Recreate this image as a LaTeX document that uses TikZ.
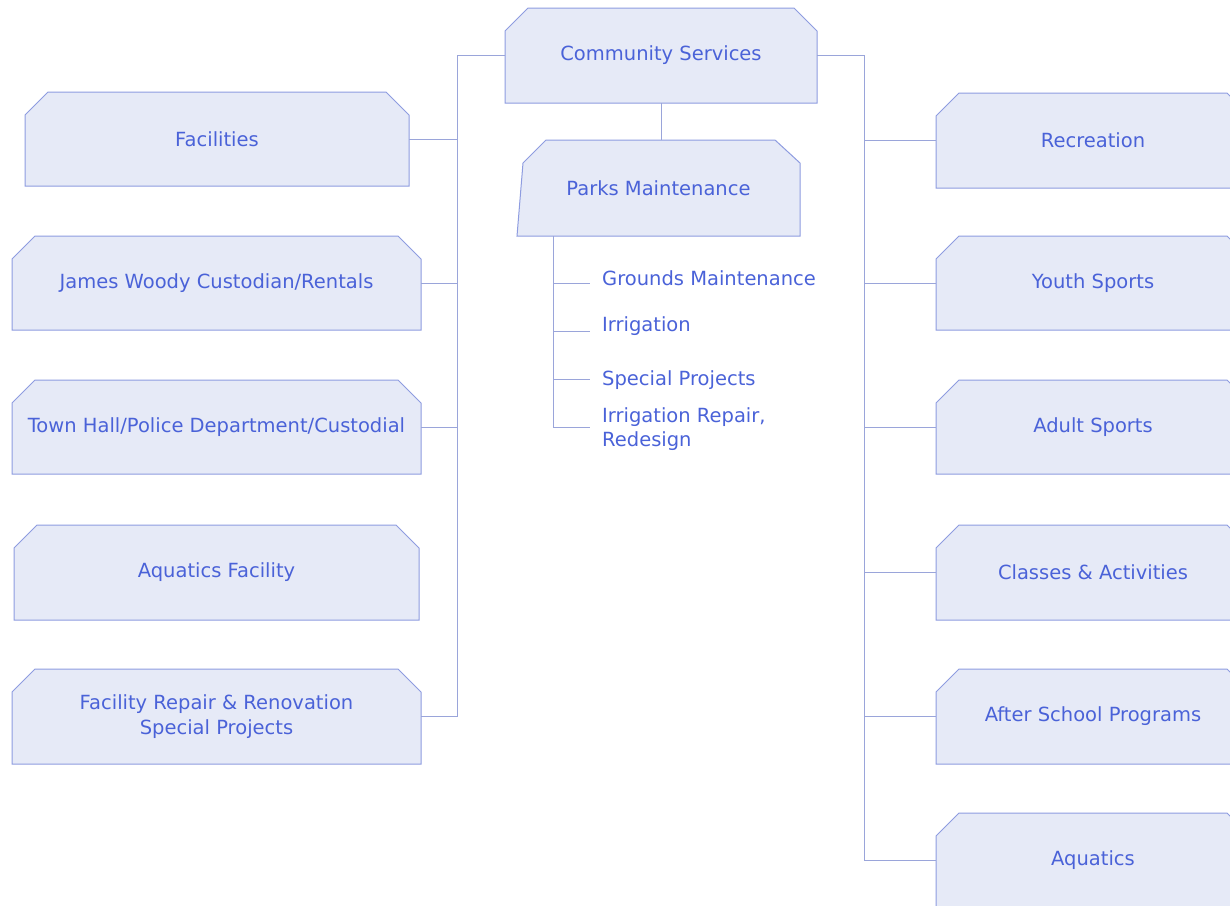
\documentclass[tikz,border=0pt]{standalone}
\usepackage{fontspec}
\setmainfont{DejaVu Sans}
\usetikzlibrary{calc,backgrounds}
\definecolor{boxfill}{HTML}{E6EAF7}
\definecolor{boxline}{HTML}{8E9CE0}
\definecolor{txt}{HTML}{4A62D8}
\definecolor{conn}{HTML}{9AA5DA}
\newcommand\chbox[1]{%
  \path[chamf] ($(#1.north west)+(23pt,0pt)$) -- ($(#1.north east)+(-23pt,0pt)$)
    -- ($(#1.north east)+(0pt,-23pt)$) -- (#1.south east) -- (#1.south west)
    -- ($(#1.north west)+(0pt,-23pt)$) -- cycle;}
\begin{document}
\begin{tikzpicture}[x=1pt,y=-1pt,
  unit/.style={rectangle, inner sep=0pt, outer sep=0pt, text=txt,
    font=\fontsize{19.5}{25}\selectfont, align=center},
  chamf/.style={draw=boxline, fill=boxfill, line width=1pt},
  link/.style={draw=conn, line width=1pt},
  item/.style={anchor=west, inner sep=0pt, text=txt,
    font=\fontsize{19.5}{24}\selectfont, align=left}
]
\path[use as bounding box] (0,0) rectangle (1230,905);
\begin{scope}
\clip (0,0) rectangle (1230,905);
% top
\node[unit, minimum width=312pt, minimum height=95pt] (cs) at (661,55.5) {Community Services};
\node[unit, minimum width=283pt, minimum height=96pt] (pm) at (658.5,188) {Parks Maintenance};
% left column
\node[unit, minimum width=384pt, minimum height=94pt] (fac) at (217,139) {Facilities};
\node[unit, minimum width=409pt, minimum height=94pt] (jw) at (216.5,283) {James Woody Custodian/Rentals};
\node[unit, minimum width=409pt, minimum height=94pt] (th) at (216.5,427) {Town Hall/Police Department/Custodial};
\node[unit, minimum width=405pt, minimum height=95pt] (af) at (216.5,572.5) {Aquatics Facility};
\node[unit, minimum width=409pt, minimum height=95pt] (frp) at (216.5,716.5) {Facility Repair \& Renovation\\Special Projects};
% right column
\node[unit, minimum width=314pt, minimum height=95pt] (rec) at (1093,140.5) {Recreation};
\node[unit, minimum width=314pt, minimum height=94pt] (ys) at (1093,283) {Youth Sports};
\node[unit, minimum width=314pt, minimum height=94pt] (as) at (1093,427) {Adult Sports};
\node[unit, minimum width=314pt, minimum height=95pt] (ca) at (1093,572.5) {Classes \& Activities};
\node[unit, minimum width=314pt, minimum height=95pt] (asp) at (1093,716.5) {After School Programs};
\node[unit, minimum width=314pt, minimum height=95pt] (aq) at (1093,860.5) {Aquatics};
% parks items
\node[item] (gm) at (602,278) {Grounds Maintenance};
\node[item] (ir) at (602,326) {Irrigation};
\node[item] (sp) at (602,380) {Special Projects};
\node[item] (irr) at (602,429) {Irrigation Repair,\\Redesign};

\begin{scope}[on background layer]
\foreach \n in {cs,fac,jw,th,af,frp,rec,ys,as,ca,asp,aq} {\chbox{\n}}
\path[chamf] ($(pm.north west)+(29pt,0pt)$) -- ($(pm.north east)+(-25pt,0pt)$)
  -- ($(pm.north east)+(0pt,-23pt)$) -- (pm.south east) -- (pm.south west)
  -- ($(pm.north west)+(6pt,-23pt)$) -- cycle;
% connectors
\coordinate (lbus) at ($(cs.west)+(-48pt,0pt)$);
\coordinate (rbus) at ($(cs.east)+(47pt,0pt)$);
\draw[link] (cs.west) -- (lbus) |- (frp.east);
\draw[link] (fac.east) -- (fac.east -| lbus);
\draw[link] (jw.east) -- (jw.east -| lbus);
\draw[link] (th.east) -- (th.east -| lbus);
\draw[link] (cs.east) -- (rbus) |- (aq.west);
\foreach \n in {rec,ys,as,ca,asp} {\draw[link] (\n.west -| rbus) -- (\n.west);}
\draw[link] (cs.south) -- (cs.south |- pm.north);
\coordinate (trunk) at ($(pm.south west)+(36pt,0pt)$);
\coordinate (b1) at (590,283);
\coordinate (b2) at (590,331);
\coordinate (b3) at (590,379);
\coordinate (b4) at (590,427);
\draw[link] (trunk) -- (trunk |- b4) -- (b4);
\foreach \b in {b1,b2,b3} {\draw[link] (trunk |- \b) -- (\b);}
\end{scope}
\end{scope}
\end{tikzpicture}
\end{document}
